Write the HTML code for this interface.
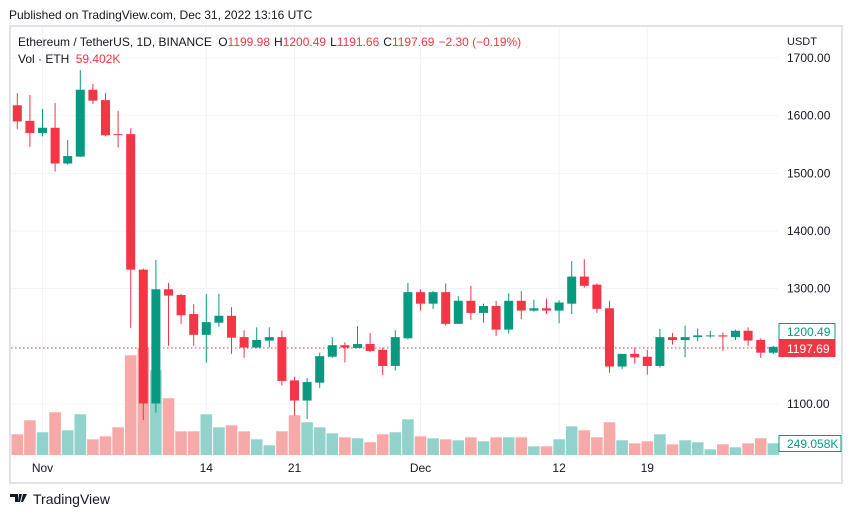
<!DOCTYPE html>
<html><head><meta charset="utf-8">
<style>
body{margin:0;background:#fff;width:851px;height:518px;overflow:hidden;font-family:"Liberation Sans",sans-serif;}
svg text{font-family:"Liberation Sans",sans-serif;}
</style></head>
<body>
<svg id="chart" width="851" height="518">
  <text x="9" y="19" font-size="12" fill="#131722">Published on TradingView.com, Dec 31, 2022 13:16 UTC</text>
  <rect x="10" y="26" width="832" height="457" fill="#fff" stroke="#e0e3eb" stroke-width="2"/>
  <g id="grid"></g>
  <g id="vols"></g>
  <line x1="11" x2="778" y1="348" y2="348" stroke="#F23645" stroke-dasharray="1.5,2.5" stroke-width="1"/>
  <g id="candles"></g>
  <g id="axes"></g>
  <text x="18" y="46" font-size="12" fill="#131722">Ethereum / TetherUS, 1D, BINANCE <tspan dx="3">O</tspan><tspan fill="#F23645">1199.98</tspan><tspan dx="4">H</tspan><tspan fill="#F23645">1200.49</tspan><tspan dx="4">L</tspan><tspan fill="#F23645">1191.66</tspan><tspan dx="4">C</tspan><tspan fill="#F23645">1197.69</tspan><tspan dx="4" fill="#F23645">−2.30 (−0.19%)</tspan></text>
  <text x="18" y="63" font-size="12" fill="#131722">Vol · ETH <tspan dx="3" fill="#F23645">59.402K</tspan></text>
  <text x="787" y="45" font-size="11" fill="#131722">USDT</text>
  <g>
    <path d="M10 494h8v8h-3v-5h-5z M19 494h3l-2 8h-2z M23 494h4l-4 8h-2z" fill="#131722"/>
    <text x="33" y="504" font-size="14" fill="#131722">TradingView</text>
  </g>
</svg>
<script>
const dates = ["Nov","14","21","Dec","12","19"];
const dateIdx = [2,15,22,32,43,50];
const priceTicks = [1100,1200,1300,1400,1500,1600,1700];
const opens  = [1618,1591,1570,1579,1517,1529,1645,1627,1568,1568,1333,1101,1299,1289,1256,1220,1241,1253,1216,1198,1210,1216,1141,1106,1137,1182,1202,1197,1204,1194,1166,1214,1294,1274,1294,1239,1279,1258,1270,1229,1279,1262,1266,1262,1274,1321,1307,1266,1165,1187,1182,1166,1216,1211,1216,1218,1219,1216,1227,1211,1189];
const highs  = [1639,1636,1612,1622,1558,1679,1655,1639,1608,1578,1335,1350,1310,1291,1273,1291,1291,1268,1228,1233,1233,1227,1147,1145,1189,1216,1207,1235,1223,1198,1228,1310,1299,1296,1309,1287,1305,1274,1279,1292,1296,1281,1283,1280,1348,1351,1309,1279,1187,1198,1194,1230,1223,1236,1231,1227,1224,1229,1233,1214,1201];
const lows   = [1577,1546,1564,1503,1515,1528,1620,1564,1545,1232,1072,1085,1201,1239,1201,1172,1234,1187,1180,1197,1198,1132,1080,1074,1128,1180,1172,1197,1190,1150,1158,1212,1262,1265,1236,1239,1246,1241,1218,1222,1247,1260,1256,1240,1256,1302,1258,1154,1161,1170,1151,1163,1203,1181,1209,1215,1192,1211,1201,1180,1187];
const closes = [1590,1570,1579,1517,1530,1645,1626,1566,1567,1333,1101,1299,1288,1254,1220,1242,1253,1215,1198,1211,1216,1140,1106,1138,1183,1202,1198,1204,1192,1166,1216,1294,1274,1294,1239,1279,1258,1270,1229,1279,1262,1266,1262,1276,1321,1305,1265,1165,1187,1181,1166,1216,1211,1216,1219,1219,1217,1227,1210,1189,1199];
const volumes = [441,739,484,910,526,867,334,398,590,2124,2279,1804,1208,505,505,867,590,633,505,334,207,505,846,697,590,462,377,356,271,441,484,760,398,356,334,313,377,292,377,377,377,185,185,334,611,526,377,697,313,249,292,441,228,313,271,121,228,164,249,356,249];

const NS="http://www.w3.org/2000/svg";
const X0=17.3, DX=12.6, PLOT_R=778, VOL_BASE=455, VOL_PX=21.3;
function xAt(i){return X0+i*DX;}
function yAt(p){return 58+(1700-p)*0.5767;}
function vH(v){return v/VOL_PX;}
function mk(tag,attrs,parent){const e=document.createElementNS(NS,tag);for(const k in attrs)e.setAttribute(k,attrs[k]);parent.appendChild(e);return e;}

const grid=document.getElementById('grid'), axes=document.getElementById('axes');
priceTicks.forEach(p=>{
  const l=mk('line',{x1:11,x2:PLOT_R,y1:yAt(p),y2:yAt(p),stroke:'#f0f3fa','stroke-width':1},grid);
  
  
  const t=mk('text',{x:787,y:yAt(p)+4,'font-size':12,fill:'#131722'},axes);
  t.textContent=p.toFixed(2);
  
  
});
dateIdx.forEach((d,k)=>{
  const x=xAt(d);
  const l=mk('line',{x1:x,x2:x,y1:27,y2:VOL_BASE,stroke:'#f0f3fa','stroke-width':1},grid);
  
  
  const t=mk('text',{x:x,y:472,'font-size':12,fill:'#131722','text-anchor':'middle'},axes);
  t.textContent=dates[k];
  
  
});

const vg=document.getElementById('vols'), cg=document.getElementById('candles');
for(let i=0;i<opens.length;i++){
  const up=closes[i]>=opens[i], x=xAt(i);
  const h=vH(volumes[i]);
  const vb=mk('rect',{x:x-5.8,y:VOL_BASE-h,width:11.6,height:h,fill:up?'#92D2CC':'#F7A9A7'},vg);
  
  
  const col=up?'#089981':'#F23645';
  const w=mk('line',{x1:x,x2:x,y1:yAt(highs[i]),y2:yAt(lows[i]),stroke:col,'stroke-width':1},cg);
  
  
  const top=yAt(Math.max(opens[i],closes[i])), bot=yAt(Math.min(opens[i],closes[i]));
  const b=mk('rect',{x:x-4.5,y:top,width:9,height:Math.max(1,bot-top),fill:col},cg);
  
  
}

// price labels
function tag(y,text,fill,stroke,tcol,name,w){
  const r=mk('rect',{x:779,y:y-8,width:w,height:16,fill:fill,stroke:stroke,'stroke-width':1},axes);
  
  
  const t=mk('text',{x:787,y:y+4.5,'font-size':12,fill:tcol},axes);
  t.textContent=text;
  
  
}
tag(331.5,'1200.49','#fff','#089981','#089981','high-price-tag',56);
tag(348.5,'1197.69','#F23645','#F23645','#fff','last-price-tag',56);
tag(443.5,'249.058K','#fff','#089981','#089981','volume-tag',62);
</script>
</body></html>
